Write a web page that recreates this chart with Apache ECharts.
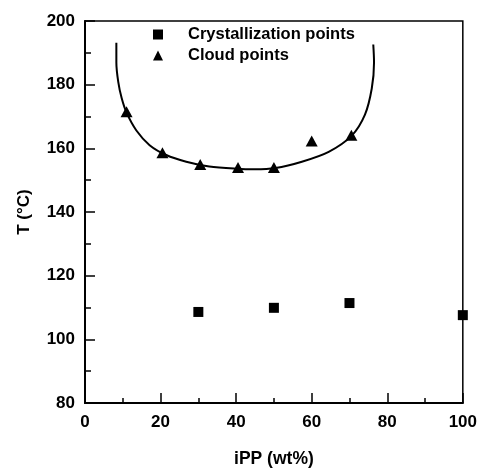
<!DOCTYPE html>
<html>
<head>
<meta charset="utf-8">
<script src="https://cdn.jsdelivr.net/npm/echarts@6/dist/echarts.min.js"></script>
<style>
  html, body { margin: 0; padding: 0; background: #fff; }
  #main { width: 480px; height: 473px; }
</style>
</head>
<body>
<div id="main"></div>
<script>
// crystallization points (iPP wt%, T)
var crystX = [30, 50, 70, 100];
var crystT = [108.6, 109.9, 111.4, 107.6];

// cloud points
var cloudX = [11, 20.5, 30.5, 40.5, 50, 60, 70.5];
var cloudT = [171.5, 158.6, 154.9, 154, 154, 162.3, 164.1];

// fitted binodal curve
var curveX = [8.3, 8.3, 8.8, 9.7, 11, 13.6, 17.1, 21.5, 26.8, 32.9, 39.9, 45, 50.4, 57.4, 64.5, 70.6, 74.1, 75.9, 76.5, 76.3];
var curveT = [193.2, 187, 180.9, 175.8, 171.2, 165.6, 161, 157.9, 155.8, 154.3, 153.6, 153.4, 153.8, 155.8, 158.9, 164, 170.6, 178.8, 187, 192.6];

var xTicks = [0, 20, 40, 60, 80, 100];
var yTicks = [80, 100, 120, 140, 160, 180, 200];

function pairs(xs, ys) {
  return xs.map(function (x, i) { return [x, ys[i]]; });
}

var chart = echarts.init(document.getElementById('main'));
var font = 'Liberation Sans, Arial, sans-serif';

var option = {
  animation: false,
  backgroundColor: '#fff',
  grid: {
    left: 85, right: 15, top: 21, bottom: 61,
    show: true, borderColor: '#000', borderWidth: 1.5
  },
  legend: {
    left: 153, top: 26, orient: 'vertical', padding: 0,
    itemWidth: 10, itemHeight: 10, itemGap: 4,
    data: ['Crystallization points', 'Cloud points'],
    textStyle: { fontFamily: font, fontSize: 16.5, fontWeight: 'bold', color: '#000', lineHeight: 16, padding: [0, 0, 0, 20] }
  },
  xAxis: {
    type: 'value', min: xTicks[0], max: xTicks[xTicks.length - 1], interval: 20,
    name: 'iPP (wt%)', nameLocation: 'middle', nameGap: 47,
    nameTextStyle: { fontFamily: font, fontSize: 17.5, fontWeight: 'bold', color: '#000' },
    axisLine: { lineStyle: { color: '#000', width: 2 } },
    axisTick: { inside: true, length: 10, lineStyle: { color: '#000', width: 1.5 } },
    minorTick: { show: true, splitNumber: 2, length: 5, lineStyle: { color: '#000', width: 1.5 } },
    axisLabel: { fontFamily: font, fontSize: 17, fontWeight: 'bold', color: '#000', margin: 11 },
    splitLine: { show: false }
  },
  yAxis: {
    type: 'value', min: yTicks[0], max: yTicks[yTicks.length - 1], interval: 20,
    name: 'T (°C)', nameLocation: 'middle', nameGap: 52,
    nameTextStyle: { fontFamily: font, fontSize: 17, fontWeight: 'bold', color: '#000' },
    axisLine: { lineStyle: { color: '#000', width: 2 } },
    axisTick: { inside: true, length: 10, lineStyle: { color: '#000', width: 1.5 } },
    minorTick: { show: true, splitNumber: 2, length: 6, lineStyle: { color: '#000', width: 1.5 } },
    axisLabel: { fontFamily: font, fontSize: 17, fontWeight: 'bold', color: '#000', margin: 10 },
    splitLine: { show: false }
  },
  series: [
    {
      name: 'Crystallization points',
      type: 'scatter',
      symbol: 'rect',
      symbolSize: 10,
      itemStyle: { color: '#000', opacity: 1 },
      data: pairs(crystX, crystT)
    },
    {
      name: 'Cloud points',
      type: 'scatter',
      symbol: 'triangle',
      symbolSize: [12, 11],
      itemStyle: { color: '#000', opacity: 1 },
      data: pairs(cloudX, cloudT)
    },
    {
      name: 'fit',
      type: 'line',
      showSymbol: false,
      smooth: 0.3,
      lineStyle: { color: '#000', width: 2 },
      data: pairs(curveX, curveT),
      z: 1
    }
  ]
};
chart.setOption(option);
window.addEventListener('resize', function () {
  chart.resize();
});
</script>
</body>
</html>
